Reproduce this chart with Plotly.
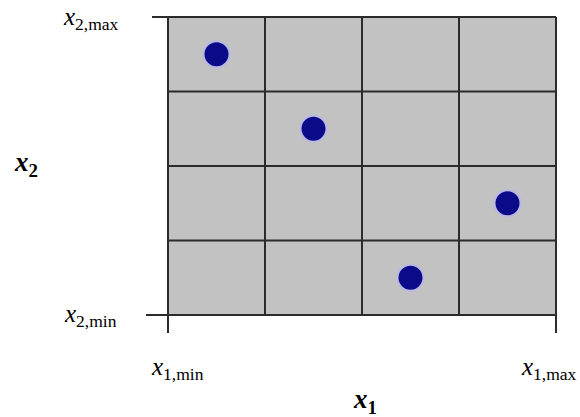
import plotly.graph_objects as go

# Data
grid_edges = [0, 1, 2, 3, 4]
sample_x1 = [0.5, 1.5, 3.5, 2.5]
sample_x2 = [3.5, 2.5, 1.5, 0.5]
tick_x2 = ["<i>x</i><sub>2,max</sub>", "<i>x</i><sub>2,min</sub>"]
tick_x1 = ["<i>x</i><sub>1,min</sub>", "<i>x</i><sub>1,max</sub>"]
title_x1 = "<b><i>x</i><sub>1</sub></b>"
title_x2 = "<b><i>x</i><sub>2</sub></b>"

# pixel mapping: x px = 168 + 97*x ; y px = 315 - 74.5*y
W, H = 580, 417
x0px, xs = 168.0, 97.0
y0px, ys = 315.0, 74.5
xr = [(0 - x0px) / xs, (W - x0px) / xs]
yr = [(y0px - H) / ys, (y0px - 0) / ys]

def px2x(p):
    return (p - x0px) / xs

def px2y(p):
    return (y0px - p) / ys

lo, hi = grid_edges[0], grid_edges[-1]
line_col = "#2b2b2b"
shapes = [dict(type="rect", x0=lo, x1=hi, y0=lo, y1=hi, fillcolor="#c2c2c2",
               line=dict(width=0), layer="below")]
for e in grid_edges:
    ylo = px2y(333) if e in (lo, hi) else lo
    shapes.append(dict(type="line", x0=e, x1=e, y0=ylo, y1=hi,
                       line=dict(color=line_col, width=2)))
for e in grid_edges:
    if e == hi:
        xlo = px2x(152)
    elif e == lo:
        xlo = px2x(146)
    else:
        xlo = lo
    shapes.append(dict(type="line", x0=xlo, x1=hi, y0=e, y1=e,
                       line=dict(color=line_col, width=2)))

fig = go.Figure()
fig.add_trace(go.Scatter(x=sample_x1, y=sample_x2, mode="markers",
                         marker=dict(size=26, color="#0b0b8a",
                                     line=dict(color="#b9b9e3", width=2)),
                         hoverinfo="skip", showlegend=False))

font = dict(family="Liberation Serif, Times New Roman, serif", color="black")
FS = 25
ann = []
ann.append(dict(x=px2x(121), y=px2y(18), text=tick_x2[0], xanchor="right", yanchor="middle",
                showarrow=False, font=dict(size=FS, **font)))
ann.append(dict(x=px2x(119), y=px2y(315), text=tick_x2[1], xanchor="right", yanchor="middle",
                showarrow=False, font=dict(size=FS, **font)))
ann.append(dict(x=px2x(149), y=px2y(368), text=tick_x1[0], xanchor="left", yanchor="middle",
                showarrow=False, font=dict(size=FS, **font)))
ann.append(dict(x=px2x(579), y=px2y(368), text=tick_x1[1], xanchor="right", yanchor="middle",
                showarrow=False, font=dict(size=FS, **font)))
ann.append(dict(x=px2x(12), y=px2y(164), text=title_x2, xanchor="left", yanchor="middle",
                showarrow=False, font=dict(size=27, **font)))
ann.append(dict(x=px2x(351), y=px2y(401), text=title_x1, xanchor="left", yanchor="middle",
                showarrow=False, font=dict(size=27, **font)))

fig.update_layout(
    width=W, height=H, margin=dict(l=0, r=0, t=0, b=0),
    paper_bgcolor="white", plot_bgcolor="white",
    xaxis=dict(range=xr, visible=False, fixedrange=True),
    yaxis=dict(range=yr, visible=False, fixedrange=True),
    shapes=shapes, annotations=ann,
)
fig.write_html("out.html")
